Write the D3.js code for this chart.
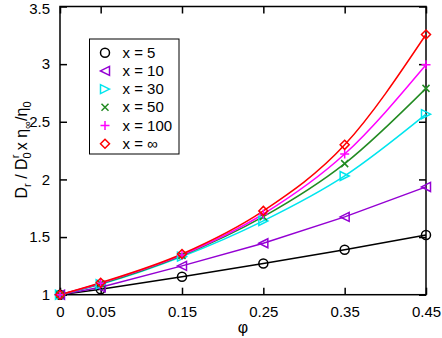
<!DOCTYPE html>
<html><head><meta charset="utf-8">
<script src="https://cdn.jsdelivr.net/npm/d3@7"></script>
<style>body{margin:0;background:#fff}text{font-family:"Liberation Sans",Arial,sans-serif}</style>
</head><body><svg id="c" width="442" height="338"></svg>
<script>
const phi = [0, 0.05, 0.15, 0.25, 0.35, 0.45];
const xTicks = [0, 0.05, 0.15, 0.25, 0.35, 0.45];
const yTicks = [1, 1.5, 2, 2.5, 3, 3.5];
const labels = ["x = 5", "x = 10", "x = 30", "x = 50", "x = 100", "x = \u221E"];
const colors = ["#000000", "#9400d3", "#00e5ee", "#228b22", "#ff00ff", "#ff0000"];
const symbols = ["circle", "triL", "triR", "cross", "plus", "diamond"];
const s5   = [1, 1.047, 1.156, 1.27, 1.39, 1.518];
const s10  = [1, 1.064, 1.25, 1.446, 1.675, 1.935];
const s30  = [1, 1.09, 1.33, 1.64, 2.03, 2.566];
const s50  = [1, 1.095, 1.34, 1.677, 2.137, 2.79];
const s100 = [1, 1.10, 1.345, 1.70, 2.22, 2.995];
const sInf = [1, 1.104, 1.353, 1.727, 2.30, 3.257];
const series = [s5, s10, s30, s50, s100, sInf];
const smooth = [false, false, true, true, true, true];

const svg = d3.select("#c");
const L = 60, R = 426, T = 6.5, B = 294.7;
const x = d3.scaleLinear().domain([0, 0.45]).range([L, R]);
const y = d3.scaleLinear().domain([1, 3.5]).range([B, T]);

svg.append("rect").attr("x", L).attr("y", T).attr("width", R - L).attr("height", B - T)
  .attr("fill", "none").attr("stroke", "#000").attr("stroke-width", 1.5);

const tl = 7;
const gx = svg.append("g").attr("transform", `translate(0,${B})`)
  .call(d3.axisBottom(x).tickValues(xTicks).tickFormat(d => d === 0 ? "0" : d3.format(".2f")(d)).tickSizeInner(-tl).tickSizeOuter(0).tickPadding(12));
const gxt = svg.append("g").attr("transform", `translate(0,${T})`)
  .call(d3.axisTop(x).tickValues(xTicks).tickFormat("").tickSizeInner(-tl).tickSizeOuter(0));
const gy = svg.append("g").attr("transform", `translate(${L},0)`)
  .call(d3.axisLeft(y).tickValues(yTicks).tickFormat(d => d3.format("")(d)).tickSizeInner(-tl).tickSizeOuter(0).tickPadding(10));
const gyr = svg.append("g").attr("transform", `translate(${R},0)`)
  .call(d3.axisRight(y).tickValues(yTicks).tickFormat("").tickSizeInner(-tl).tickSizeOuter(0));
[gx, gxt, gy, gyr].forEach(g => {
  g.select(".domain").remove();
  g.selectAll("line").attr("stroke", "#000").attr("stroke-width", 1.5);
  g.selectAll("text").attr("font-size", 15).attr("fill", "#000").style("font-family", '"Liberation Sans",Arial,sans-serif');
});
gy.selectAll(".tick text").filter(d => d === 3.5).attr("dy", "0.45em");

function sym(g, type, cx, cy, color) {
  const s = 4.5;
  let el;
  if (type === "circle") el = g.append("circle").attr("cx", cx).attr("cy", cy).attr("r", s);
  else if (type === "triL") el = g.append("path").attr("d", `M${cx - s},${cy}L${cx + s},${cy - s}L${cx + s},${cy + s}Z`);
  else if (type === "triR") el = g.append("path").attr("d", `M${cx + s},${cy}L${cx - s},${cy - s}L${cx - s},${cy + s}Z`);
  else if (type === "cross") el = g.append("path").attr("d", `M${cx - 3.5},${cy - 3.5}L${cx + 3.5},${cy + 3.5}M${cx - 3.5},${cy + 3.5}L${cx + 3.5},${cy - 3.5}`);
  else if (type === "plus") el = g.append("path").attr("d", `M${cx - 4.5},${cy}L${cx + 4.5},${cy}M${cx},${cy - 4.5}L${cx},${cy + 4.5}`);
  else el = g.append("path").attr("d", `M${cx},${cy - s}L${cx + s},${cy}L${cx},${cy + s}L${cx - s},${cy}Z`);
  el.attr("fill", "none").attr("stroke", color).attr("stroke-width", 1.5);
}

const plot = svg.append("g");
series.forEach((vals, i) => {
  const data = phi.map((p, j) => [p, vals[j]]);
  const line = d3.line().x(d => x(d[0])).y(d => y(d[1])).curve(smooth[i] ? d3.curveMonotoneX : d3.curveLinear);
  plot.append("path").datum(data).attr("d", line).attr("fill", "none").attr("stroke", colors[i]).attr("stroke-width", 1.5);
});
series.forEach((vals, i) => {
  phi.forEach((p, j) => sym(plot, symbols[i], x(p), y(vals[j]), colors[i]));
});

const lg = svg.append("g");
lg.append("rect").attr("x", 89.5).attr("y", 39).attr("width", 89.5).attr("height", 115)
  .attr("fill", "#fff").attr("stroke", "#000").attr("stroke-width", 1);
labels.forEach((lab, i) => {
  const cy = 52.7 + i * 18.2;
  sym(lg, symbols[i], 105, cy, colors[i]);
  lg.append("text").attr("x", 122.5).attr("y", cy + 5).attr("font-size", 15).text(lab);
});

svg.append("text").attr("x", 243).attr("y", 333).attr("text-anchor", "middle").attr("font-size", 16).text("\u03C6");
const yt = svg.append("text").attr("transform", "translate(27,150) rotate(-90)").attr("text-anchor", "middle").attr("font-size", 16);
yt.append("tspan").text("D");
yt.append("tspan").attr("font-size", 11).attr("dy", 4).text("r");
yt.append("tspan").attr("dy", -4).text(" / D");
yt.append("tspan").attr("font-size", 11).attr("dy", 4).text("0");
yt.append("tspan").attr("font-size", 11).attr("dy", -12).attr("dx", -6).text("r");
yt.append("tspan").attr("dy", 8).text(" x \u03B7");
yt.append("tspan").attr("font-size", 11).attr("dy", 4).text("\u221E");
yt.append("tspan").attr("dy", -4).text("/\u03B7");
yt.append("tspan").attr("font-size", 11).attr("dy", 4).text("0");
</script></body></html>
